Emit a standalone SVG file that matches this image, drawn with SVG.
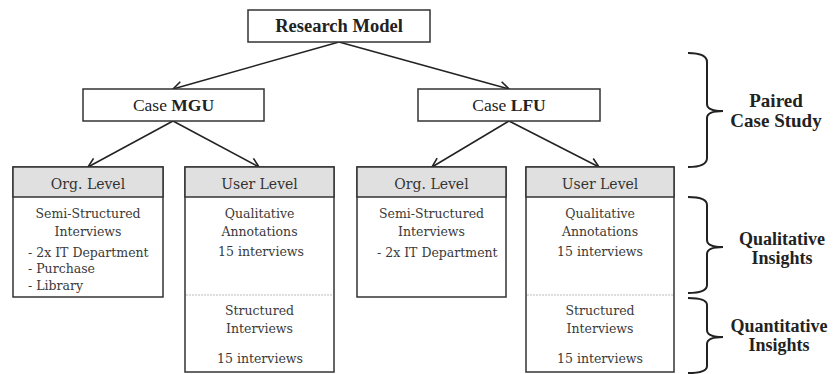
<svg xmlns="http://www.w3.org/2000/svg" width="837" height="374" viewBox="0 0 837 374">
<defs>
<marker id="arr" markerWidth="12" markerHeight="12" refX="10" refY="6" orient="auto" markerUnits="userSpaceOnUse">
<path d="M1,1 L10,6 L1,11" fill="none" stroke="#222" stroke-width="1.6"/>
</marker>
<style>
.box{fill:#fff;stroke:#333;stroke-width:1.5}
.hdr{fill:#e0e0e0;stroke:#333;stroke-width:1.5}
.t1{font-family:"Liberation Serif",serif;fill:#222}
.b{font-weight:bold}
.t2{font-family:"DejaVu Serif",serif;fill:#3a3a3a;font-size:12.5px}
.h{font-family:"DejaVu Serif",serif;fill:#333;font-size:14px}
.conn{stroke:#222;stroke-width:1.5;fill:none;marker-end:url(#arr)}
.brace{stroke:#222;stroke-width:2;fill:none}
.lbl{font-family:"Liberation Serif",serif;font-weight:bold;font-size:18px;fill:#222}
.lbl2{font-family:"Liberation Serif",serif;font-weight:bold;font-size:19px;fill:#222}
.div{stroke:#bbb;stroke-width:1;stroke-dasharray:2 1}
</style>
</defs>
<rect width="837" height="374" fill="#fff"/>
<g id="connectors">
<line class="conn" x1="339" y1="42" x2="173" y2="89"/>
<line class="conn" x1="339" y1="42" x2="509" y2="89"/>
<line class="conn" x1="173" y1="121" x2="88" y2="167"/>
<line class="conn" x1="173" y1="121" x2="259" y2="167"/>
<line class="conn" x1="509" y1="121" x2="432" y2="167"/>
<line class="conn" x1="509" y1="121" x2="599" y2="167"/>
</g>
<g id="research-model">
<rect class="box" x="248" y="10" width="182" height="32"/>
<text class="t1 b" x="339" y="32" font-size="18.5" text-anchor="middle">Research Model</text>
</g>
<g id="case-mgu">
<rect class="box" x="83" y="89" width="181" height="32"/>
<text class="t1" x="173.5" y="111" font-size="17.5" text-anchor="middle">Case <tspan class="b">MGU</tspan></text>
</g>
<g id="case-lfu">
<rect class="box" x="418" y="89" width="182" height="32"/>
<text class="t1" x="509" y="111" font-size="17.5" text-anchor="middle">Case <tspan class="b">LFU</tspan></text>
</g>
<g id="mgu-org">
<rect class="box" x="13" y="167" width="150" height="130"/>
<rect class="hdr" x="13" y="167" width="150" height="30"/>
<text class="h" x="88" y="189" text-anchor="middle">Org. Level</text>
<text class="t2" x="88" y="218" text-anchor="middle">Semi-Structured</text>
<text class="t2" x="88" y="236" text-anchor="middle">Interviews</text>
<text class="t2" x="28" y="257">- 2x IT Department</text>
<text class="t2" x="28" y="273">- Purchase</text>
<text class="t2" x="28" y="290">- Library</text>
</g>
<g id="mgu-user">
<rect class="box" x="185" y="167" width="149" height="205"/>
<rect class="hdr" x="185" y="167" width="149" height="30"/>
<text class="h" x="259.5" y="189" text-anchor="middle">User Level</text>
<text class="t2" x="259.5" y="218" text-anchor="middle">Qualitative</text>
<text class="t2" x="259.5" y="236" text-anchor="middle">Annotations</text>
<text class="t2" x="218" y="256">15 interviews</text>
<line class="div" x1="186" y1="295" x2="333" y2="295"/>
<text class="t2" x="259.5" y="315" text-anchor="middle">Structured</text>
<text class="t2" x="259.5" y="333" text-anchor="middle">Interviews</text>
<text class="t2" x="217" y="363">15 interviews</text>
</g>
<g id="lfu-org">
<rect class="box" x="357" y="167" width="149" height="130"/>
<rect class="hdr" x="357" y="167" width="149" height="30"/>
<text class="h" x="431.5" y="189" text-anchor="middle">Org. Level</text>
<text class="t2" x="431.5" y="218" text-anchor="middle">Semi-Structured</text>
<text class="t2" x="431.5" y="236" text-anchor="middle">Interviews</text>
<text class="t2" x="377" y="257">- 2x IT Department</text>
</g>
<g id="lfu-user">
<rect class="box" x="526" y="167" width="148" height="205"/>
<rect class="hdr" x="526" y="167" width="148" height="30"/>
<text class="h" x="600" y="189" text-anchor="middle">User Level</text>
<text class="t2" x="600" y="218" text-anchor="middle">Qualitative</text>
<text class="t2" x="600" y="236" text-anchor="middle">Annotations</text>
<text class="t2" x="557" y="256">15 interviews</text>
<line class="div" x1="527" y1="295" x2="673" y2="295"/>
<text class="t2" x="600" y="315" text-anchor="middle">Structured</text>
<text class="t2" x="600" y="333" text-anchor="middle">Interviews</text>
<text class="t2" x="557" y="363">15 interviews</text>
</g>
<g id="brace-paired">
<path class="brace" d="M688,53 Q707,53 707,62 L707,104 Q707,111 723,111 Q707,111 707,118 L707,158 Q707,167 688,167"/>
<text class="lbl2" x="776" y="107" text-anchor="middle">Paired</text>
<text class="lbl2" x="776" y="127" text-anchor="middle">Case Study</text>
</g>
<g id="brace-qual">
<path class="brace" d="M688,197 Q707,197 707,205 L707,240 Q707,247 723,247 Q707,247 707,254 L707,285 Q707,293 688,293"/>
<text class="lbl" x="782" y="245" text-anchor="middle">Qualitative</text>
<text class="lbl" x="782" y="264" text-anchor="middle">Insights</text>
</g>
<g id="brace-quant">
<path class="brace" d="M688,298 Q707,298 707,305 L707,330 Q707,337 723,337 Q707,337 707,344 L707,366 Q707,373 688,373"/>
<text class="lbl" x="779" y="332" text-anchor="middle">Quantitative</text>
<text class="lbl" x="779" y="351" text-anchor="middle">Insights</text>
</g>
</svg>
